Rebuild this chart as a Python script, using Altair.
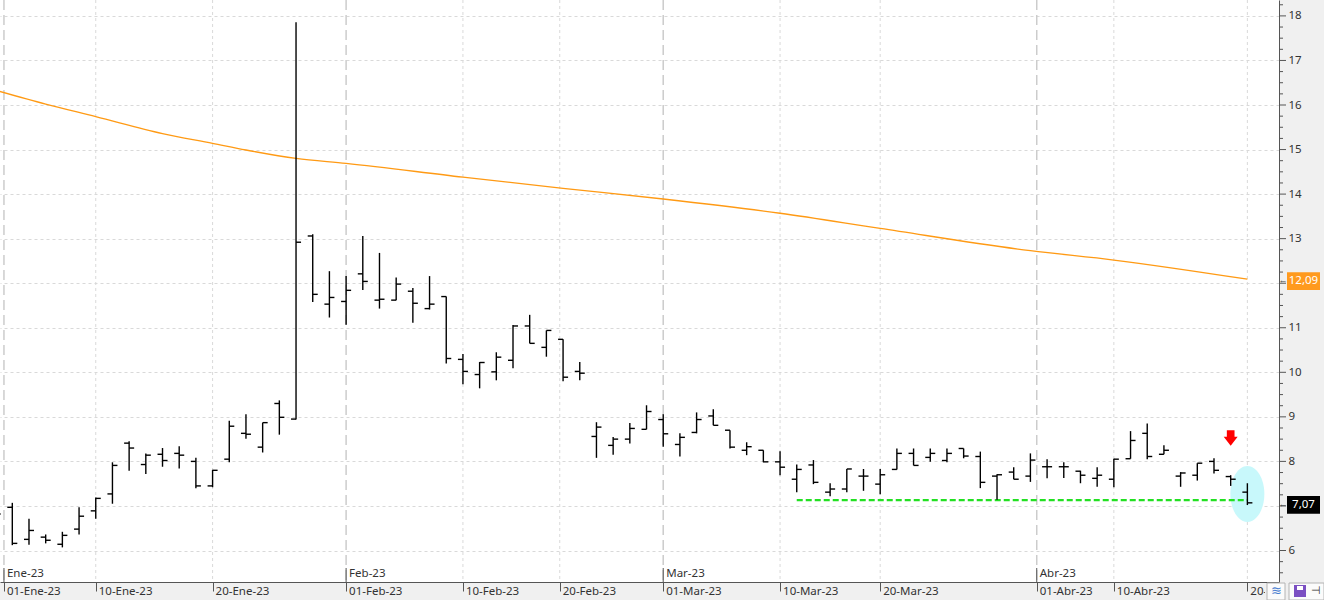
import altair as alt
import pandas as pd

# ---------------- data ----------------
# trading-day bars (index 0 = 30-Dec-22 ... 75 = 20-Apr-23)
opens = [6.80, 6.97, 6.25, 6.30, 6.14, 6.48, 6.89, 7.27, 8.41, 7.93,
         8.16, 8.18, 8.00, 7.45, 8.05, 8.63, 8.32, 9.30, 8.95, 13.06,
         11.53, 11.59, 12.21, 11.62, 11.62, 11.82, 11.43, 11.70, 10.29, 9.95,
         10.01, 10.27, 11.04, 10.56, 10.74, 10.02, 8.56, 8.36, 8.50, 8.72,
         8.94, 8.38, 8.65, 9.02, 8.70, 8.25, 8.25, 7.99, 7.60, 7.92,
         7.31, 7.38, 7.67, 7.49, 7.82, 8.18, 8.09, 8.02, 8.29, 8.11,
         7.67, 7.76, 7.67, 7.88, 7.88, 7.78, 7.62, 7.60, 8.06, 8.63,
         8.16, 7.67, 7.69, 8.00, 7.66, 7.31]
highs = [6.90, 7.07, 6.71, 6.36, 6.42, 6.97, 7.19, 7.98, 8.45, 8.18,
         8.30, 8.34, 8.08, 7.81, 8.91, 9.06, 8.87, 9.37, 17.86, 13.10,
         12.27, 12.16, 13.06, 12.68, 12.13, 11.89, 12.16, 11.70, 10.41, 10.23,
         10.45, 11.06, 11.29, 10.94, 10.74, 10.23, 8.88, 8.55, 8.86, 9.26,
         9.06, 8.63, 9.10, 9.17, 8.70, 8.43, 8.25, 8.23, 7.93, 8.03,
         7.51, 7.83, 7.83, 7.83, 8.29, 8.29, 8.29, 8.29, 8.29, 8.22,
         7.71, 7.87, 8.18, 8.05, 7.98, 7.79, 7.87, 8.06, 8.68, 8.85,
         8.36, 7.76, 7.96, 8.07, 7.69, 7.51]
lows = [6.70, 6.12, 6.13, 6.16, 6.07, 6.36, 6.71, 7.05, 7.79, 7.72,
        7.88, 7.84, 7.40, 7.42, 7.98, 8.51, 8.20, 8.60, 8.94, 11.58,
        11.23, 11.07, 11.85, 11.43, 11.62, 11.11, 11.41, 10.20, 9.73, 9.64,
        9.82, 10.09, 10.65, 10.35, 9.80, 9.82, 8.08, 8.15, 8.40, 8.72,
        8.33, 8.11, 8.63, 8.81, 8.29, 8.14, 7.98, 7.69, 7.31, 7.49,
        7.22, 7.31, 7.34, 7.26, 7.82, 7.91, 7.99, 7.98, 8.07, 7.40,
        7.14, 7.60, 7.54, 7.62, 7.63, 7.51, 7.43, 7.42, 8.06, 8.05,
        8.16, 7.43, 7.57, 7.73, 7.45, 7.02]
closes = [6.82, 6.16, 6.45, 6.23, 6.34, 6.77, 7.17, 7.91, 8.30, 8.14,
          8.02, 8.14, 7.45, 7.80, 8.79, 8.61, 8.87, 8.99, 12.92, 11.75,
          11.68, 11.84, 12.04, 11.64, 11.98, 11.55, 11.53, 10.31, 10.02, 10.22,
          10.34, 11.04, 10.65, 10.94, 9.89, 9.98, 8.77, 8.50, 8.74, 9.12,
          8.62, 8.54, 8.94, 8.81, 8.32, 8.33, 7.99, 7.87, 7.82, 7.53,
          7.38, 7.83, 7.67, 7.70, 8.18, 7.91, 8.18, 8.18, 8.12, 7.53,
          7.70, 7.60, 8.03, 7.88, 7.88, 7.69, 7.69, 8.05, 8.47, 8.11,
          8.25, 7.74, 7.96, 7.80, 7.60, 7.07]

# moving average (orange), read at several bar positions
ma_idx = [0, 3, 6, 10, 13, 15, 18, 21, 28, 34, 40, 47, 53, 62, 67, 75]
ma_val = [16.33, 16.02, 15.74, 15.36, 15.14, 14.99, 14.80, 14.69, 14.38,
          14.13, 13.89, 13.57, 13.23, 12.73, 12.52, 12.09]

# support line (green dashed)
support_from = [48]
support_to = [75]
support_val = [7.13]

# date axis ticks (bar-index positions)
tick_pos = [0.50, 6, 13, 21, 28, 33.8, 40, 47, 53, 62.38, 67, 75]
tick_lab = ["01-Ene-23", "10-Ene-23", "20-Ene-23", "01-Feb-23", "10-Feb-23",
            "20-Feb-23", "01-Mar-23", "10-Mar-23", "20-Mar-23", "01-Abr-23",
            "10-Abr-23", "20-Abr-23"]
month_pos = [0.50, 21, 40, 62.38]
month_lab = ["Ene-23", "Feb-23", "Mar-23", "Abr-23"]

# price axis
y_major = list(range(6, 19))
y_minor = [v / 4 for v in range(22, 74) if v % 4]
y_hidden = [7, 12]  # labels covered by the value tags

# last-value tags on the price axis
tag_val = [12.09, 7.07]
tag_lab = ["12,09", "7,07"]
tag_col = ["#ff9a1e", "#000000"]

# annotations
circle_at = [75]
circle_val = [7.27]
arrow_at = [74]
arrow_val = [8.525]

# ---------------- chart ----------------
FONT = "Noto Sans"
xs = alt.Scale(domain=[0.263, 76.895], nice=False, zero=False)
ys = alt.Scale(domain=[5.293, 18.357], nice=False, zero=False)
hide_expr = " || ".join(f"datum.value == {v}" for v in y_hidden)
xax = alt.Axis(values=tick_pos, labels=False, ticks=True, tickSize=9,
               tickColor="#555555", domainColor="#555555", grid=False, title=None)
yax = alt.Axis(orient="right", values=y_major, ticks=False, labelPadding=9,
               grid=True, gridDash=[3, 3], gridColor="#d9d9d9",
               domainColor="#555555", labelColor="#333333", labelFont=FONT,
               labelFontSize=11.5, format="d", title=None,
               labelExpr=f"({hide_expr}) ? '' : datum.label")


def X(f):
    return alt.X(f, type="quantitative", scale=xs, axis=xax)


def Y(f):
    return alt.Y(f, type="quantitative", scale=ys, axis=yax)


bars = pd.DataFrame({"i": list(range(len(opens))), "o": opens, "h": highs,
                     "l": lows, "c": closes})
ma = pd.DataFrame({"i": ma_idx, "v": ma_val})
sup = pd.DataFrame({"a": support_from, "b": support_to, "v": support_val})
ticks = pd.DataFrame({"p": tick_pos, "lab": tick_lab})
ticks["month"] = ticks["p"].isin(month_pos)
ticks["last"] = ticks.index == len(ticks) - 1
months = pd.DataFrame({"p": month_pos, "lab": month_lab})
ymaj = pd.DataFrame({"v": y_major})
ymin = pd.DataFrame({"v": y_minor})
tags = pd.DataFrame({"v": tag_val, "lab": tag_lab, "col": tag_col})
circ = pd.DataFrame({"i": circle_at, "v": circle_val})
arr = pd.DataFrame({"i": arrow_at, "v": arrow_val})
one = pd.DataFrame({"k": [0]})

ELLIPSE = ("M0.607,0 C0.607,0.552 0.335,1 0,1 C-0.335,1 -0.607,0.552 -0.607,0 "
           "C-0.607,-0.552 -0.335,-1 0,-1 C0.335,-1 0.607,-0.552 0.607,0 Z")
ARROW = ("M-0.49,-1 L0.49,-1 L0.49,-0.15 L0.89,-0.15 L0,1 L-0.89,-0.15 "
         "L-0.49,-0.15 Z")

grid_short = alt.Chart(ticks).transform_filter("!datum.month").mark_rule(
    color="#d9d9d9", strokeDash=[3, 3], strokeWidth=1).encode(x=X("p"))
grid_long = alt.Chart(ticks).transform_filter("datum.month").mark_rule(
    color="#cccccc", strokeDash=[10, 5], strokeWidth=1.5).encode(x=X("p"))

ellipse = alt.Chart(circ).mark_point(shape=ELLIPSE, size=3136, filled=True,
                                     color="#c8f8fb", opacity=1,
                                     strokeWidth=0).encode(x=X("i"), y=Y("v"))

ma_line = alt.Chart(ma).mark_line(color="#ff9a14", strokeWidth=1.3,
                                  interpolate="monotone",
                                  clip=True).encode(x=X("i"), y=Y("v"))

support = alt.Chart(sup).mark_rule(color="#22e022", strokeWidth=2.2,
                                   strokeDash=[6, 3]).encode(
    x=X("a"), x2="b", y=Y("v"))

bw = 1.4
hl = alt.Chart(bars).mark_rule(color="black", strokeWidth=bw, clip=True).encode(
    x=X("i"), y=Y("l"), y2="h")
op = alt.Chart(bars).transform_calculate(i0="datum.i - 0.3").mark_rule(
    color="black", strokeWidth=bw, clip=True).encode(x=X("i0:Q"), x2="i", y=Y("o"))
cl = alt.Chart(bars).transform_calculate(i1="datum.i + 0.3").mark_rule(
    color="black", strokeWidth=bw, clip=True).encode(x=X("i"), x2="i1:Q", y=Y("c"))

arrow = alt.Chart(arr).mark_point(shape=ARROW, size=246, filled=True,
                                  color="#ff0000", opacity=1,
                                  strokeWidth=0).encode(x=X("i"), y=Y("v"))

month_tick = alt.Chart(months).mark_rule(color="#555555", strokeWidth=1).encode(
    x=X("p"), y=alt.value(568), y2=alt.value(582))
month_text = alt.Chart(months).mark_text(
    align="left", baseline="middle", dx=3, font=FONT, fontSize=11.5,
    color="#333333").encode(x=X("p"), y=alt.value(574), text="lab")
date_text = alt.Chart(ticks).transform_filter("!datum.last").mark_text(
    align="left", baseline="middle", dx=3, font=FONT, fontSize=11.5,
    color="#333333").encode(x=X("p"), y=alt.value(592), text="lab")
# the last date label is cut off by the toolbar in the reference
date_last = alt.Chart(ticks).transform_filter("datum.last").mark_text(
    align="left", baseline="middle", dx=3, font=FONT, fontSize=11.5,
    color="#333333", limit=17, ellipsis="-").encode(
    x=X("p"), y=alt.value(592), text="lab")

maj_ticks = alt.Chart(ymaj).mark_rule(color="#555555").encode(
    x=alt.value(1279), x2=alt.value(1286), y=Y("v"))
min_ticks = alt.Chart(ymin).transform_filter("datum.v < 18.35").mark_rule(
    color="#555555").encode(x=alt.value(1279), x2=alt.value(1283), y=Y("v"))

tag_box = alt.Chart(tags).transform_calculate(
    lo="datum.v - 0.2", hi="datum.v + 0.2").mark_rect(yOffset=2, y2Offset=2).encode(
    x=alt.value(1287), x2=alt.value(1320), y=Y("lo:Q"), y2="hi:Q",
    color=alt.Color("col:N", scale=None))
tag_text = alt.Chart(tags).mark_text(
    align="center", baseline="middle", dy=2, font=FONT, fontSize=11.5,
    color="white").encode(x=alt.value(1303.5), y=Y("v"), text="lab")
tag_arrow = alt.Chart(tags).mark_text(
    text="←", align="center", baseline="middle", dy=1, fontSize=9,
    color="#444444").encode(x=alt.value(1283), y=Y("v"))

# bottom-right toolbar widgets
cover = alt.Chart(one).mark_rect(color="#f0f0f0").encode(
    x=alt.value(1265), x2=alt.value(1324), y=alt.value(583), y2=alt.value(600))
box1 = alt.Chart(one).mark_rect(fill="#fbfbfb", stroke="#b4b4b4",
                                strokeWidth=1).encode(
    x=alt.value(1267), x2=alt.value(1285), y=alt.value(583), y2=alt.value(600))
box2 = alt.Chart(one).mark_rect(fill="#fbfbfb", stroke="#b4b4b4",
                                strokeWidth=1).encode(
    x=alt.value(1289), x2=alt.value(1324), y=alt.value(583), y2=alt.value(600))
icon1 = alt.Chart(one).mark_text(text="≋", fontSize=13, color="#4a7fd0",
                                 align="center", baseline="middle").encode(
    x=alt.value(1276), y=alt.value(591))
save = alt.Chart(one).mark_rect(fill="#7b4fc2").encode(
    x=alt.value(1294), x2=alt.value(1306), y=alt.value(585), y2=alt.value(597))
save_in = alt.Chart(one).mark_rect(fill="#ffffff").encode(
    x=alt.value(1297), x2=alt.value(1303), y=alt.value(586), y2=alt.value(590))
pin = alt.Chart(one).mark_text(text="⊣", fontSize=11, color="#333333",
                               align="center", baseline="middle").encode(
    x=alt.value(1316), y=alt.value(591))

chart = alt.layer(
    grid_short, grid_long, ellipse, ma_line, support, hl, op, cl, arrow,
    month_tick, month_text, date_text, date_last, maj_ticks, min_ticks,
    tag_box, tag_text, tag_arrow, cover, box1, box2, icon1, save, save_in, pin
).properties(
    width=1279, height=582,
    autosize=alt.AutoSizeParams(type="none"),
    padding={"left": 0, "top": 0, "right": 45, "bottom": 18},
    background="#f0f0f0",
).configure_view(fill="white", strokeWidth=0)

chart.save("out.html", embed_options={"renderer": "svg", "actions": False})
